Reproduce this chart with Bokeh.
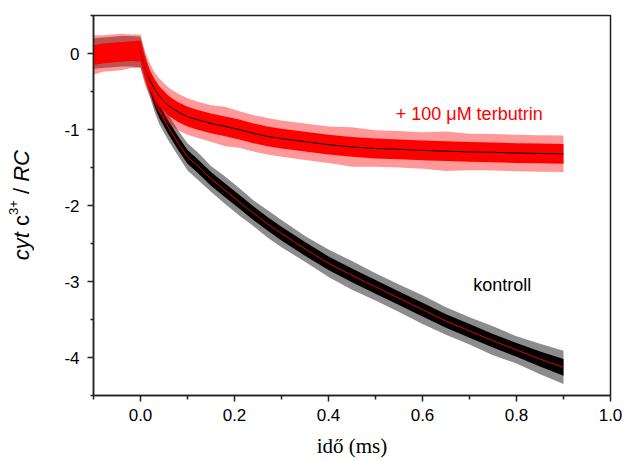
import numpy as np
from bokeh.plotting import figure
from bokeh.models import Range1d, Label, FixedTicker, NumeralTickFormatter, Div
from bokeh.layouts import row
from bokeh.embed import file_html
from bokeh.resources import INLINE

# time axis (ms)
t_ms = [-0.10, -0.08, -0.06, -0.04, -0.02, 0.00, 0.01, 0.02, 0.03, 0.04, 0.06, 0.08,
        0.10, 0.12, 0.15, 0.18, 0.21, 0.24, 0.27, 0.30, 0.35, 0.40, 0.45, 0.50,
        0.55, 0.60, 0.65, 0.70, 0.75, 0.80, 0.85, 0.90]

# control trace (centre / fit), cyt c3+ per RC
kontroll = [0.00, 0.01, 0.02, 0.03, 0.03, 0.02, -0.20, -0.40, -0.60, -0.76, -0.98, -1.18,
            -1.36, -1.47, -1.65, -1.80, -1.95, -2.10, -2.24, -2.37, -2.57, -2.76, -2.92, -3.07,
            -3.22, -3.37, -3.52, -3.65, -3.78, -3.90, -4.02, -4.13]

# + 100 uM terbutrin trace (centre / fit)
terbutrin = [-0.02, 0.00, 0.01, 0.02, 0.03, 0.03, -0.20, -0.35, -0.47, -0.56, -0.69, -0.77,
             -0.83, -0.87, -0.92, -0.96, -1.00, -1.05, -1.09, -1.12, -1.16, -1.20, -1.23, -1.25,
             -1.26, -1.275, -1.285, -1.295, -1.30, -1.31, -1.315, -1.32]

# noise envelope half-widths
kontroll_noise_inner = [0.11, 0.11, 0.11, 0.11, 0.11, 0.12, 0.12, 0.11, 0.10, 0.09, 0.09, 0.09,
                        0.09, 0.09, 0.09, 0.09, 0.09, 0.09, 0.09, 0.09, 0.09, 0.09, 0.09, 0.09,
                        0.09, 0.09, 0.09, 0.09, 0.09, 0.09, 0.10, 0.11]
kontroll_noise_outer = [0.20, 0.20, 0.20, 0.20, 0.20, 0.20, 0.18, 0.17, 0.17, 0.17, 0.17, 0.17,
                        0.18, 0.18, 0.17, 0.18, 0.18, 0.17, 0.18, 0.18, 0.17, 0.18, 0.19, 0.18,
                        0.18, 0.19, 0.18, 0.18, 0.19, 0.18, 0.20, 0.22]
terbutrin_noise_inner = [0.13, 0.13, 0.13, 0.13, 0.13, 0.14, 0.14, 0.13, 0.13, 0.13, 0.13, 0.13,
                         0.13, 0.13, 0.13, 0.13, 0.13, 0.13, 0.13, 0.13, 0.13, 0.13, 0.13, 0.13,
                         0.13, 0.13, 0.13, 0.13, 0.13, 0.13, 0.13, 0.13]
terbutrin_noise_outer = [0.26, 0.24, 0.24, 0.24, 0.22, 0.22, 0.22, 0.22, 0.22, 0.23, 0.24, 0.24,
                         0.24, 0.24, 0.24, 0.26, 0.24, 0.24, 0.24, 0.24, 0.24, 0.24, 0.26, 0.24,
                         0.24, 0.24, 0.26, 0.24, 0.24, 0.24, 0.24, 0.24]

x_ticks = [0.0, 0.2, 0.4, 0.6, 0.8, 1.0]
x_minor = [-0.1, 0.1, 0.3, 0.5, 0.7, 0.9]
y_ticks = [0, -1, -2, -3, -4]
y_minor = [0.5, -0.5, -1.5, -2.5, -3.5, -4.5]

t = np.array(t_ms)
k = np.array(kontroll)
tb = np.array(terbutrin)
ki = np.array(kontroll_noise_inner)
ko = np.array(kontroll_noise_outer)
ti = np.array(terbutrin_noise_inner)
to = np.array(terbutrin_noise_outer)

LABEL_W = 40
p = figure(width=623 - LABEL_W, height=461, x_range=Range1d(-0.1, 1.0), y_range=Range1d(-4.5, 0.5),
           output_backend="svg", toolbar_location=None,
           min_border_left=93 - LABEL_W, min_border_right=13, min_border_top=15, min_border_bottom=66)
p.background_fill_color = "white"
p.border_fill_color = "white"
p.xgrid.visible = False
p.ygrid.visible = False
p.outline_line_color = "#222222"
p.outline_line_width = 1.5

# control trace band
p.varea(x=t, y1=k - ko, y2=k + ko, fill_color="#000000", fill_alpha=0.45)
p.varea(x=t, y1=k - ki, y2=k + ki, fill_color="#000000")
# terbutrin trace band
p.varea(x=t, y1=tb - to, y2=tb + to, fill_color="#ff0000", fill_alpha=0.4)
p.varea(x=t, y1=tb - ti, y2=tb + ti, fill_color="#ff0000")

# fits
m = t >= 0
p.line(t[m], tb[m], line_color="black", line_width=1)
p.line(t[m], k[m], line_color="#e00000", line_width=1)

for ax in (p.xaxis[0], p.yaxis[0]):
    ax.axis_line_color = "#222222"
    ax.axis_line_width = 1.5
    ax.major_tick_line_color = "#222222"
    ax.minor_tick_line_color = "#222222"
    ax.major_tick_line_width = 1.5
    ax.minor_tick_line_width = 1.5
    ax.major_tick_in = 0
    ax.minor_tick_in = 0
    ax.major_tick_out = 6
    ax.minor_tick_out = 4
    ax.major_label_text_font = "Liberation Sans"
    ax.major_label_text_font_size = "17px"
    ax.major_label_text_color = "black"

p.xaxis.ticker = FixedTicker(ticks=x_ticks, minor_ticks=x_minor)
p.yaxis.ticker = FixedTicker(ticks=y_ticks, minor_ticks=y_minor)
p.xaxis.formatter = NumeralTickFormatter(format="0.0")
p.yaxis.formatter = NumeralTickFormatter(format="0")
p.xaxis.major_label_standoff = 7
p.yaxis.major_label_standoff = 8
p.yaxis.minor_tick_out = 3

p.xaxis.axis_label = "idő (ms)"
p.xaxis.axis_label_text_font = "Liberation Serif"
p.xaxis.axis_label_text_font_style = "normal"
p.xaxis.axis_label_text_font_size = "21px"
p.xaxis.axis_label_text_color = "black"
p.xaxis.axis_label_standoff = 10

p.add_layout(Label(x=0.543, y=-0.79, text="+ 100 μM terbutrin", text_color="#ff0000",
                   text_font="Liberation Sans", text_font_size="18px",
                   text_baseline="alphabetic", text_align="left"))
p.add_layout(Label(x=0.708, y=-3.04, text="kontroll", text_color="black",
                   text_font="Liberation Sans", text_font_size="18px",
                   text_baseline="alphabetic", text_align="left"))

# y axis title with italic parts and superscript (rotated HTML text)
ylabel_html = (
    '<div style="margin:0; padding:0; margin-top:150px; margin-left:10px; '
    'writing-mode:vertical-rl; transform:rotate(180deg); white-space:nowrap; '
    "font-family:'Liberation Sans', Arial, sans-serif; font-size:22px; line-height:24px; color:black;\">"
    '<i>cyt</i> c<sup style="font-size:13px; line-height:0;">3+</sup> / <i>RC</i></div>'
)
ylab = Div(text=ylabel_html, width=LABEL_W, height=461, margin=0,
           styles={"background-color": "white", "overflow": "visible"})

layout = row(ylab, p, spacing=0)
layout.margin = 0

open("out.html", "w").write(file_html(layout, INLINE))
